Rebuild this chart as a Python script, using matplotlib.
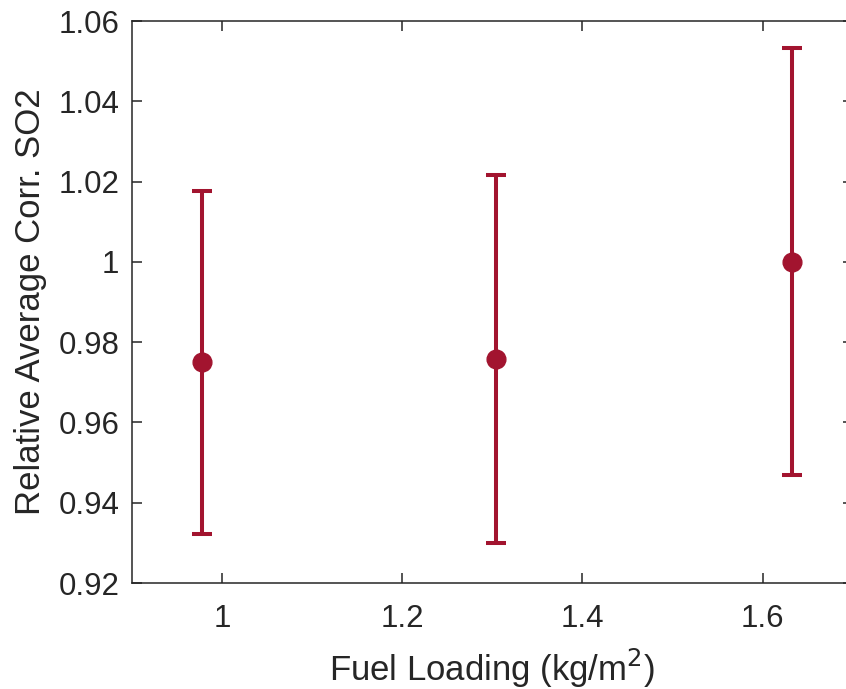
import matplotlib
matplotlib.use("Agg")
import matplotlib.pyplot as plt

# Data
fuel_loading = [0.978, 1.304, 1.632]
rel_so2 = [0.975, 0.9758, 1.000]
err_low = [0.9322, 0.9300, 0.9469]
err_high = [1.0177, 1.0216, 1.0532]

xticks = [1, 1.2, 1.4, 1.6]
yticks = [0.92, 0.94, 0.96, 0.98, 1.00, 1.02, 1.04, 1.06]
ytick_labels = ["0.92", "0.94", "0.96", "0.98", "1", "1.02", "1.04", "1.06"]

color = "#A2142F"
axis_color = "#262626"

plt.rcParams['font.family'] = ['Liberation Sans', 'DejaVu Sans']

fig = plt.figure(figsize=(8.46, 6.89), dpi=100)
ax = fig.add_axes([0.156, 0.1538, 0.852, 0.8157])

yerr = [[v - lo for v, lo in zip(rel_so2, err_low)],
        [hi - v for v, hi in zip(rel_so2, err_high)]]
ax.errorbar(fuel_loading, rel_so2, yerr=yerr, fmt='o', color=color,
            markersize=13.5, elinewidth=2.9, capsize=7.2, capthick=2.9)

ax.set_xlim(0.9, 1.7)
ax.set_ylim(0.92, 1.06)
ax.set_xticks(xticks)
ax.set_xticklabels(["1", "1.2", "1.4", "1.6"])
ax.set_yticks(yticks)
ax.set_yticklabels(ytick_labels)

for s in ax.spines.values():
    s.set_color(axis_color)
    s.set_linewidth(1.1)

ax.tick_params(direction='in', top=True, right=True, length=7, width=1.1,
               colors=axis_color, labelsize=22.5)
ax.tick_params(axis='x', pad=15)
ax.tick_params(axis='y', pad=9)
ax.set_xlabel("Fuel Loading (kg/m$^2$)", fontsize=25, color=axis_color, labelpad=9)
ax.set_ylabel("Relative Average Corr. SO2", fontsize=25, color=axis_color, labelpad=8)

fig.savefig("out.png", dpi=100)
